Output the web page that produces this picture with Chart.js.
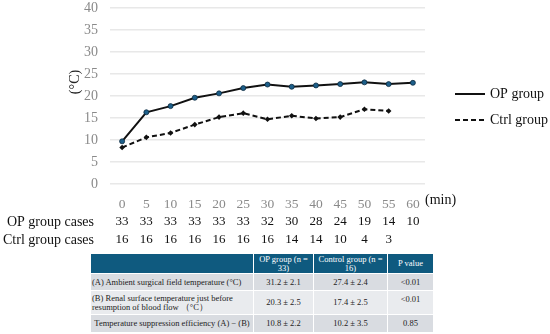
<!DOCTYPE html>
<html>
<head>
<meta charset="utf-8">
<script src="https://cdn.jsdelivr.net/npm/chart.js@4.4.1/dist/chart.umd.min.js"></script>
<style>
  body { margin: 0; background: #fff; width: 550px; height: 334px; overflow: hidden; position: relative; }
  #wrap { position: absolute; left: 0; top: 0; width: 550px; height: 250px; }
  table.stats {
    position: absolute; left: 90px; top: 253px; width: 343px;
    border-collapse: collapse; table-layout: fixed;
    font-family: "Liberation Serif", serif; font-size: 8.5px; color: #222;
  }
  table.stats td, table.stats th { border: 1.5px solid #fff; padding: 0 3px; line-height: 9px; }
  table.stats th { background: #0f5a7f; color: #fff; font-weight: normal; text-align: center; height: 19px; }
  table.stats td { text-align: center; }
  table.stats tr.r1 td, table.stats tr.r3 td { background: #d9dce1; }
  table.stats tr.r2 td { background: #e9ebee; }
  table.stats td.lbl { text-align: left; padding-left: 1px; }
  table.stats td.top { vertical-align: top; padding-top: 4px; }
</style>
</head>
<body>
<div id="wrap"><canvas id="myChart" width="550" height="250"></canvas></div>
<table class="stats" id="stats"></table>
<script>
// time points (min)
const minutes = ['0', '5', '10', '15', '20', '25', '30', '35', '40', '45', '50', '55', '60'];
// renal surface temperature (°C)
const opTemp = [9.7, 16.3, 17.7, 19.6, 20.6, 21.8, 22.6, 22.1, 22.4, 22.7, 23.1, 22.7, 23.0];
const ctrlTemp = [8.3, 10.6, 11.6, 13.5, 15.2, 16.1, 14.7, 15.5, 14.9, 15.2, 17.0, 16.6, null];
// number of cases at each time point
const opCases = [33, 33, 33, 33, 33, 33, 32, 30, 28, 24, 19, 14, 10];
const ctrlCases = [16, 16, 16, 16, 16, 16, 16, 14, 14, 10, 4, 3, null];
const yMin = 0, yMax = 40, yStep = 5;

// summary table
const tableHead = ['', 'OP group (n = 33)', 'Control group (n = 16)', 'P value'];
const tableLabels = [
  '(A) Ambient surgical field temperature (°C)',
  '(B) Renal surface temperature just before resumption of blood flow （°C）',
  'Temperature suppression efficiency (A) − (B)'
];
const opStats = ['31.2 ± 2.1', '20.3 ± 2.5', '10.8 ± 2.2'];
const ctrlStats = ['27.4 ± 2.4', '17.4 ± 2.5', '10.2 ± 3.5'];
const pValues = ['<0.01', '<0.01', '0.85'];

const tbl = document.getElementById('stats');
let html = '<colgroup><col style="width:163px"><col style="width:60px"><col style="width:74px"><col style="width:46px"></colgroup>';
html += '<tr>' + tableHead.map(h => '<th>' + h + '</th>').join('') + '</tr>';
const rowH = [17, 24, 18];
tableLabels.forEach((lab, i) => {
  const lblCls = i === 2 ? '' : 'lbl';
  const pCls = i === 1 ? 'top' : '';
  html += '<tr class="r' + (i + 1) + '" style="height:' + rowH[i] + 'px">' +
    '<td class="' + lblCls + '">' + lab.replace('<', '&lt;') + '</td>' +
    '<td>' + opStats[i] + '</td>' +
    '<td>' + ctrlStats[i] + '</td>' +
    '<td class="' + pCls + '">' + pValues[i].replace('<', '&lt;') + '</td></tr>';
});
tbl.innerHTML = html;

const serif = '"Liberation Serif", serif';

const extras = {
  id: 'extras',
  afterDraw(chart) {
    const ctx = chart.ctx;
    const x = chart.scales.x;
    ctx.save();
    // y axis title
    ctx.fillStyle = '#222';
    ctx.font = '14px ' + serif;
    ctx.textAlign = 'center';
    ctx.textBaseline = 'middle';
    ctx.translate(75, 82);
    ctx.rotate(-Math.PI / 2);
    ctx.fillText('(°C)', 0, 0);
    ctx.setTransform(1, 0, 0, 1, 0, 0);

    // x unit
    ctx.font = '14px ' + serif;
    ctx.textAlign = 'left';
    ctx.fillStyle = '#111';
    ctx.fillText('(min)', 425, 200);

    // legend
    chart.data.datasets.forEach((ds, i) => {
      const ly = 94 + i * 26;
      ctx.strokeStyle = ds.borderColor;
      ctx.lineWidth = 2;
      ctx.setLineDash(ds.borderDash || []);
      ctx.beginPath();
      ctx.moveTo(455, ly);
      ctx.lineTo(485, ly);
      ctx.stroke();
      ctx.setLineDash([]);
      ctx.fillStyle = '#111';
      ctx.font = '14px ' + serif;
      ctx.textAlign = 'left';
      ctx.fillText(ds.label, 490, ly);
    });

    // case counts
    const rows = [['OP group cases', opCases, 222], ['Ctrl group cases', ctrlCases, 240]];
    rows.forEach(([name, vals, ry]) => {
      ctx.fillStyle = '#111';
      ctx.font = '14px ' + serif;
      ctx.textAlign = 'right';
      ctx.fillText(name, 94, ry);
      ctx.font = '13px ' + serif;
      ctx.textAlign = 'center';
      vals.forEach((v, i) => {
        if (v !== null) ctx.fillText(String(v), x.getPixelForValue(i), ry);
      });
    });
    ctx.restore();
  }
};

const myChart = new Chart(document.getElementById('myChart'), {
  type: 'line',
  data: {
    labels: minutes,
    datasets: [{
      label: 'OP group',
      data: opTemp,
      borderColor: '#111',
      borderWidth: 2,
      pointStyle: 'circle',
      pointRadius: 2.5,
      pointBackgroundColor: '#1d5f8a',
      pointBorderColor: '#0b2a3f',
      pointBorderWidth: 0.8,
      tension: 0
    }, {
      label: 'Ctrl group',
      data: ctrlTemp,
      borderColor: '#111',
      borderWidth: 2,
      borderDash: [5, 3],
      pointStyle: 'rectRot',
      pointRadius: 2.8,
      pointBackgroundColor: '#111',
      pointBorderColor: '#111',
      pointBorderWidth: 0,
      tension: 0
    }]
  },
  options: {
    responsive: false,
    animation: false,
    devicePixelRatio: 1,
    layout: { padding: { left: 0, right: 125, top: 1, bottom: 36 } },
    plugins: { legend: { display: false }, tooltip: { enabled: false } },
    scales: {
      x: {
        offset: true,
        grid: { display: false },
        border: { display: false },
        ticks: { color: '#8a8a8a', font: { family: serif, size: 13.5 }, padding: 4, maxRotation: 0, autoSkip: false },
        afterFit: s => { s.height = 30; }
      },
      y: {
        min: yMin,
        max: yMax,
        ticks: { stepSize: yStep, color: '#8a8a8a', font: { family: serif, size: 14 }, padding: 12 },
        grid: { color: '#e8e8e8', lineWidth: 1.5, drawTicks: false },
        border: { display: false },
        afterFit: s => { s.width = 110; s.paddingTop = 8; s.paddingBottom = 8; }
      }
    }
  },
  plugins: [extras]
});
</script>
</body>
</html>
